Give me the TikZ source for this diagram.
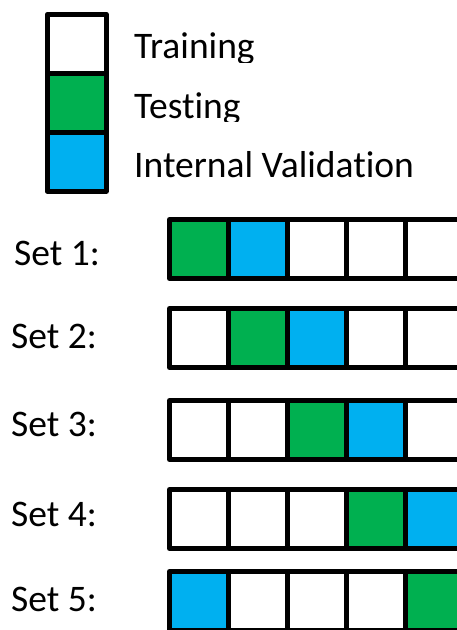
\documentclass[tikz,border=0pt]{standalone}
\usepackage{fontspec}
\setmainfont{Carlito}[Ligatures=NoCommon]
\definecolor{testgreen}{RGB}{0,176,80}
\definecolor{valblue}{RGB}{0,176,240}
\tikzset{
    cell/.style={draw, line width=5pt, line join=round, minimum width=59pt, minimum height=59pt, inner sep=0pt, outer sep=0pt},
    lbl/.style={anchor=base west, inner sep=0pt, font=\fontsize{37.5}{40}\selectfont},
}
\begin{document}
\begin{tikzpicture}[x=1pt, y=-1pt]
    \useasboundingbox (0,0) rectangle (457,630);
    % legend
    \node[cell, fill=white] (train) at (76.75,43.75) {};
    \node[cell, fill=testgreen] (test) at (76.75,102.75) {};
    \node[cell, fill=valblue] (valid) at (76.75,161.75) {};
    \begin{scope}
        \clip (120,20) rectangle (457,62.7);
        \node[lbl] (traintxt) at (134,58.3) {Training};
    \end{scope}
    \begin{scope}
        \clip (120,80) rectangle (457,121.7);
        \node[lbl] (testtxt) at (134,118) {Testing};
    \end{scope}
    \node[lbl] (validtxt) at (134,177) {Internal Validation};
    % sets
    \foreach \r/\yc/\yb/\xl/\cols in {
        1/249/265/14/{testgreen,valblue,white,white,white},
        2/338/348/11/{white,testgreen,valblue,white,white},
        3/430/436.7/11/{white,white,testgreen,valblue,white},
        4/519/526.7/11/{white,white,white,testgreen,valblue},
        5/601/611.7/11/{valblue,white,white,white,testgreen}}
    {
        \node[lbl] (set\r) at (\xl,\yb) {Set \r:};
        \foreach \c [count=\i] in \cols
            \node[cell, fill=\c] (s\r c\i) at (140+59*\i,\yc) {};
    }
\end{tikzpicture}
\end{document}
